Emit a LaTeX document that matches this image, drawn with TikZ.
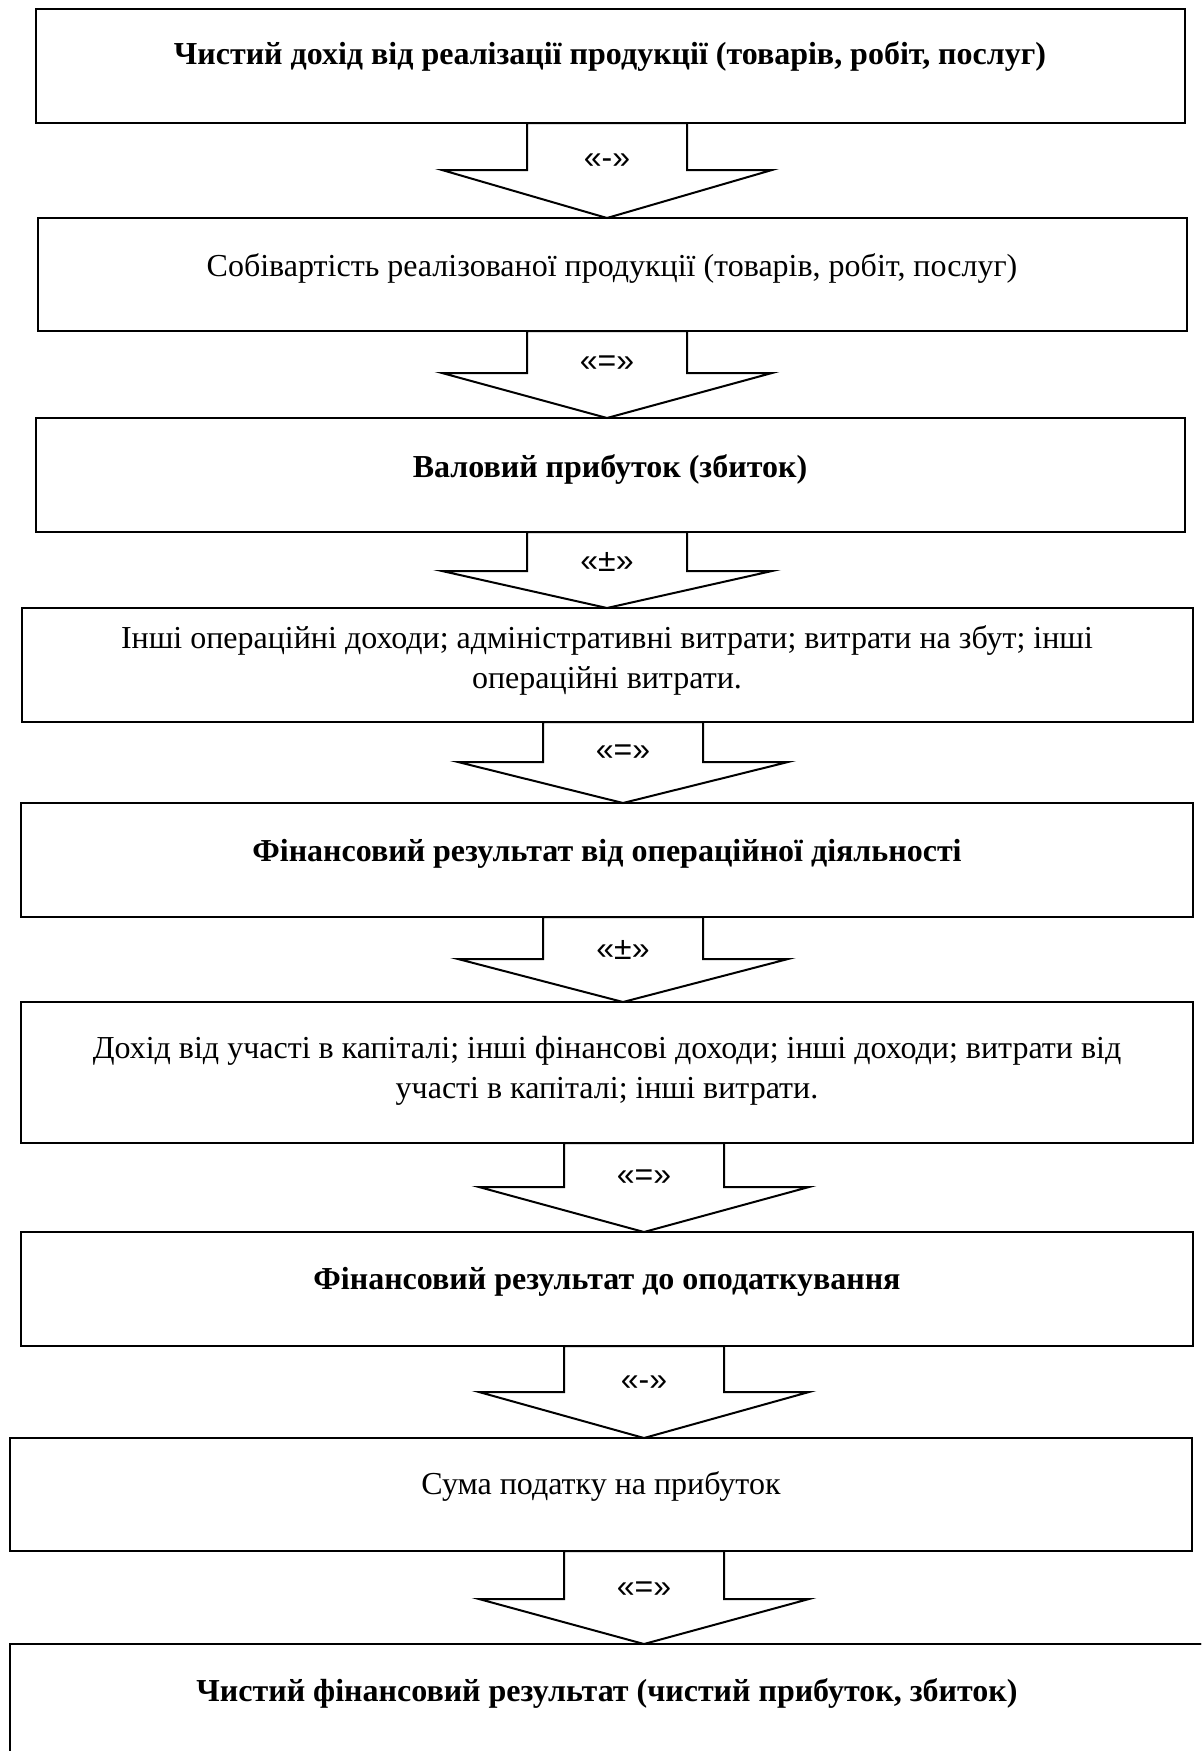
\documentclass[tikz,border=0pt]{standalone}
\usepackage{fontspec}
\setmainfont{Liberation Serif}
\newfontfamily\lblfont{Liberation Sans}
\usetikzlibrary{calc}
\tikzset{
  box/.style={draw, line width=1.3pt, rectangle, inner sep=0pt, outer sep=0pt},
  barrow/.style={draw, fill=white, line width=1pt, line join=miter},
  txt/.style={font=\fontsize{16pt}{20pt}\selectfont, align=center, inner sep=0pt},
  lbl/.style={font=\lblfont\fontsize{16pt}{19pt}\selectfont, inner sep=0pt}
}
\newcommand{\boxnode}[5]{\node[box, anchor=north west, minimum width={(#4-#2)*0.5pt}, minimum height={(#5-#3)*0.5pt}] (#1) at (#2,#3) {};}
\newcommand{\blockarr}[6]{%
  \path let \p1=(#2.south), \p2=(#3.north), \p3=(#4,#5) in
    (\x3,\y1) coordinate (#1s) (\x3,\y2) coordinate (#1t) (\x3,\y3) coordinate (#1b);
  \draw[barrow] ($(#1s)+(-80,0)$) -- ($(#1b)+(-80,0)$) -- ($(#1b)+(-165,0)$) -- (#1t)
    -- ($(#1b)+(165,0)$) -- ($(#1b)+(80,0)$) -- ($(#1s)+(80,0)$) -- cycle;
  \node[lbl] (#1l) at ($(#1b)+(0,-9)$) {#6};
}
\begin{document}
\begin{tikzpicture}[x=0.5pt, y=-0.5pt]
\fill[white] (0,0) rectangle (1201,1751);
\clip (0,0) rectangle (1201,1751);
% boxes
\boxnode{b1}{36}{9}{1185}{123}
\boxnode{b2}{38}{218}{1187}{331}
\boxnode{b3}{36}{418}{1185}{532}
\boxnode{b4}{22}{608}{1193}{722}
\boxnode{b5}{21}{803}{1193}{917}
\boxnode{b6}{21}{1002}{1193}{1143}
\boxnode{b7}{21}{1232}{1193}{1346}
\boxnode{b8}{10}{1438}{1192}{1551}
\boxnode{b9}{10}{1644}{1240}{1800}
% arrows
\blockarr{a1}{b1}{b2}{607}{170}{«-»}
\blockarr{a2}{b2}{b3}{607}{373}{«=»}
\blockarr{a3}{b3}{b4}{607}{571}{«±»}
\blockarr{a4}{b4}{b5}{623}{762}{«=»}
\blockarr{a5}{b5}{b6}{623}{959}{«±»}
\blockarr{a6}{b6}{b7}{644}{1187}{«=»}
\blockarr{a7}{b7}{b8}{644}{1392}{«-»}
\blockarr{a8}{b8}{b9}{644}{1599}{«=»}
% redraw box borders over arrow ends
\foreach \b in {b1,b2,b3,b4,b5,b6,b7,b8,b9} {\draw[line width=1.3pt] (\b.north west) rectangle (\b.south east);}
% texts
\node[txt, anchor=base] (t1) at (610,64) {\bfseries Чистий дохід від реалізації продукції (товарів, робіт, послуг)};
\node[txt, anchor=base] (t2) at (612,276) {Собівартість реалізованої продукції (товарів, робіт, послуг)};
\node[txt, anchor=base] (t3) at (610,477) {\bfseries Валовий прибуток (збиток)};
\node[txt, anchor=base] (t4) at (607,688) {Інші операційні доходи; адміністративні витрати; витрати на збут; інші\\операційні витрати.};
\node[txt, anchor=base] (t5) at (607,861) {\bfseries Фінансовий результат від операційної діяльності};
\node[txt, anchor=base] (t6) at (607,1098) {Дохід від участі в капіталі; інші фінансові доходи; інші доходи; витрати від\\участі в капіталі; інші витрати.};
\node[txt, anchor=base] (t7) at (607,1289) {\bfseries Фінансовий результат до оподаткування};
\node[txt, anchor=base] (t8) at (601,1494) {Сума податку на прибуток};
\node[txt, anchor=base] (t9) at (607,1701) {\bfseries Чистий фінансовий результат (чистий прибуток, збиток)};
\end{tikzpicture}
\end{document}
